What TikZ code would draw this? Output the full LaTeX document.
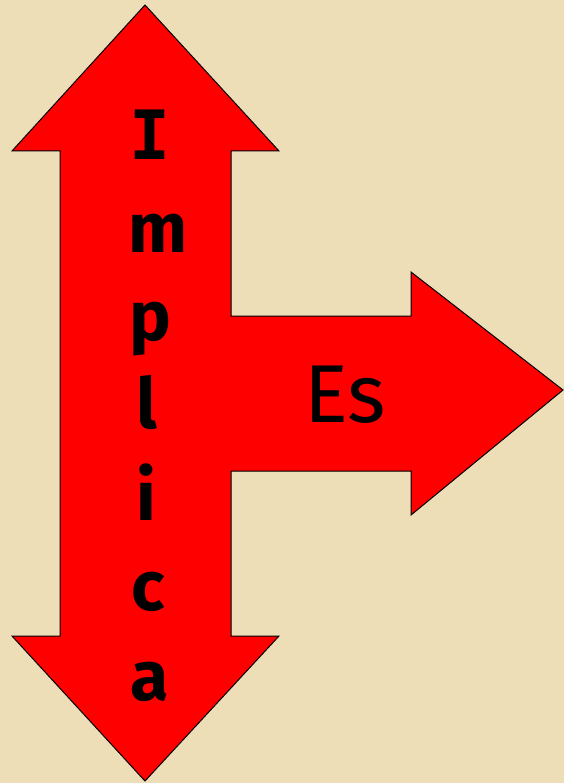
\documentclass[tikz,border=0pt]{standalone}
\usepackage{fontspec}
\setmainfont{Fira Sans}
\newfontfamily\serifI{DejaVu Sans Mono}
\definecolor{parch}{RGB}{237,222,183}
\definecolor{arrowred}{RGB}{255,0,0}
\begin{document}
\begin{tikzpicture}[x=1pt,y=-1pt,
  letter/.style={anchor=base,inner sep=0pt,font=\fontsize{70}{84}\selectfont\bfseries},
  shapeline/.style={draw=black,line width=1pt,fill=arrowred,line join=miter}]
\fill[parch] (0,0) rectangle (564,783);
\useasboundingbox (0,0) rectangle (564,783);
\draw[shapeline]
  (145,5) -- (279,151) -- (231,151) -- (231,316) -- (411,316) -- (411,272)
  -- (563,390) -- (411,515) -- (411,471) -- (231,471) -- (231,636)
  -- (279,636) -- (145,781) -- (12,636) -- (60,636) -- (60,151) -- (12,151) -- cycle;
\node[letter,font=\fontsize{68}{80}\selectfont\serifI\bfseries] (l1) at (150,160) {I};
\node[letter] (l2) at (158,253) {m};
\node[letter] (l3) at (150,340) {p};
\node[letter] (l4) at (147,428) {l};
\node[letter] (l5) at (146,520) {i};
\node[letter] (l6) at (148,610) {c};
\node[letter] (l7) at (150,700) {a};
\node[anchor=base,inner sep=0pt,font=\fontsize{82}{96}\selectfont] (es) at (345,422) {Es};
\end{tikzpicture}
\end{document}
